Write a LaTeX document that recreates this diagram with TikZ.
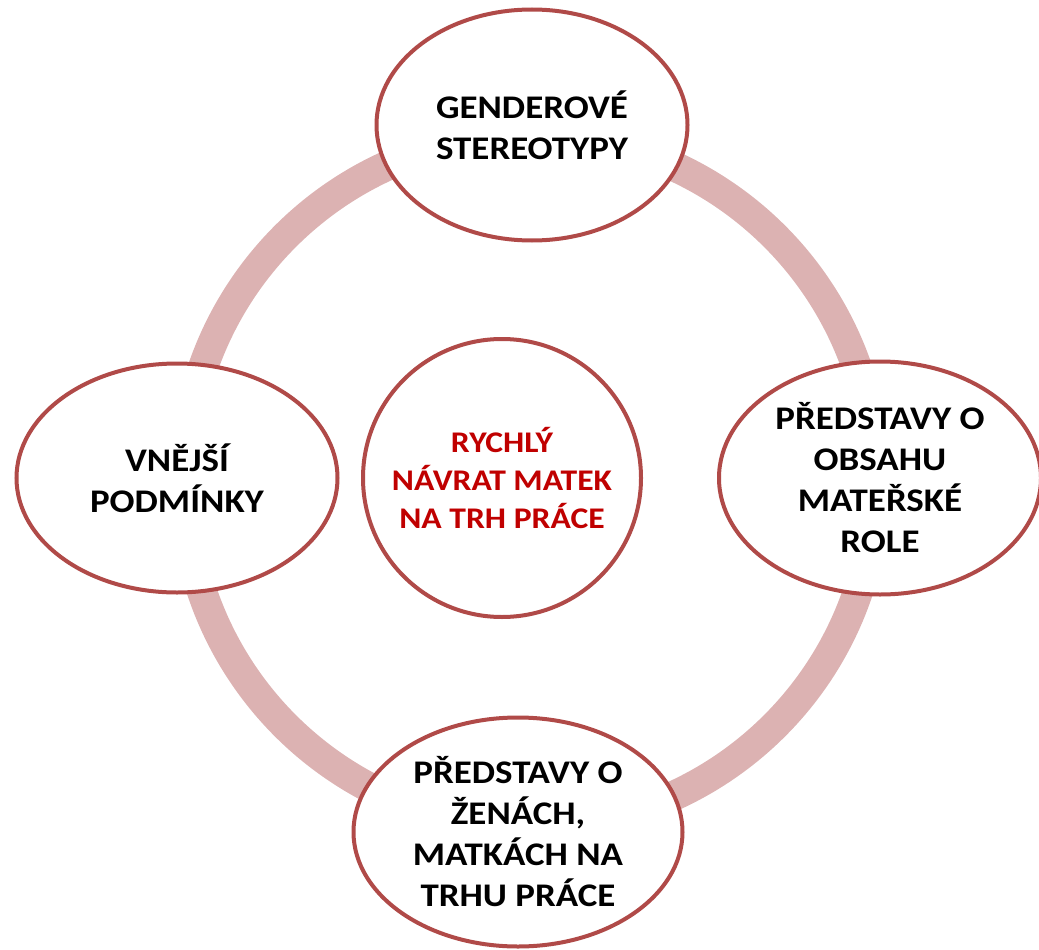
\documentclass[tikz,border=0pt]{standalone}
\usepackage{fontspec}
\setmainfont{Carlito}[FakeStretch=1.12]
\usetikzlibrary{shapes.geometric}
\definecolor{ringred}{HTML}{DCB2B2}
\definecolor{edgered}{HTML}{B04A48}
\definecolor{titlered}{HTML}{C00000}
\begin{document}
\begin{tikzpicture}[x=1pt,y=-1pt,
    bubble/.style={ellipse,draw=edgered,line width=4pt,fill=white,align=center,
      inner sep=0pt,font=\fontsize{33}{41}\selectfont\bfseries},
    hub/.style={circle,draw=edgered,line width=4pt,fill=white,align=center,
      inner sep=0pt,text=titlered,font=\fontsize{30}{38}\selectfont\bfseries}]
	\path [use as bounding box,clip] (0,0) rectangle (1039,950);
	\draw [ringred,line width=30pt] (530,481) circle (346pt);
	\node [hub,minimum size=278pt] (navrat) at (502,478) {RYCHLÝ\\NÁVRAT MATEK\\NA TRH PRÁCE};
	\node [bubble,minimum width=311pt,minimum height=231pt] (stereo) at (532,125) {GENDEROVÉ\\STEREOTYPY};
	\node [bubble,minimum width=321pt,minimum height=229pt] (vnejsi) at (177,478) {VNĚJŠÍ\\PODMÍNKY};
	\node [bubble,minimum width=322pt,minimum height=233pt] (role) at (880,478) {PŘEDSTAVY O\\OBSAHU\\MATEŘSKÉ\\ROLE};
	\node [bubble,minimum width=329pt,minimum height=229pt] (zeny) at (518,832) {PŘEDSTAVY O\\ŽENÁCH,\\MATKÁCH NA\\TRHU PRÁCE};
\end{tikzpicture}
\end{document}
